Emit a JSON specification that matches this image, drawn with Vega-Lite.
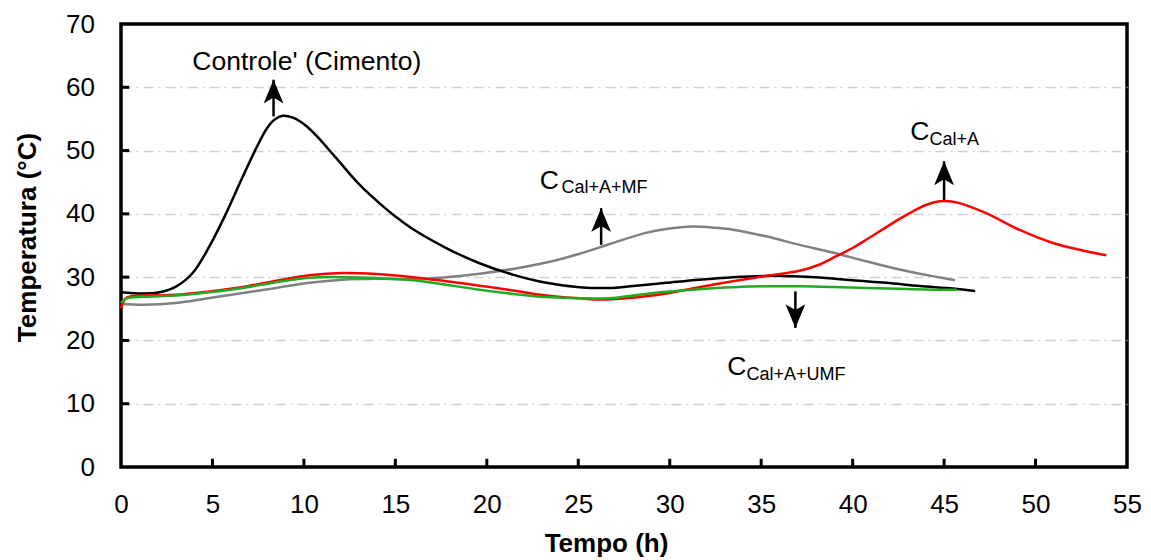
{
  "$schema": "https://vega.github.io/schema/vega-lite/v6.json",
  "width": 1006,
  "height": 443,
  "autosize": {"type": "none"},
  "padding": {"left": 121, "top": 24, "right": 24, "bottom": 93},
  "background": "white",
  "config": {
    "view": {"stroke": "black", "strokeWidth": 3.5},
    "font": "Liberation Sans",
    "axis": {
      "labelFont": "Liberation Sans",
      "labelFontSize": 26,
      "labelColor": "black",
      "labelFlush": false,
      "labelOverlap": false,
      "titleFont": "Liberation Sans",
      "titleFontSize": 26,
      "titleFontWeight": "bold",
      "titleColor": "black",
      "domain": false,
      "ticks": false
    }
  },
  "datasets": {
    "curves": [
      {"series": "MF", "t": 0, "temp": 25.8}, {"series": "MF", "t": 1.2, "temp": 25.65}, {"series": "MF", "t": 3.0, "temp": 25.9}, {"series": "MF", "t": 4.84, "temp": 26.7}, {"series": "MF", "t": 6.66, "temp": 27.5}, {"series": "MF", "t": 8.49, "temp": 28.3}, {"series": "MF", "t": 10.3, "temp": 29.1}, {"series": "MF", "t": 12.13, "temp": 29.6}, {"series": "MF", "t": 13.95, "temp": 29.75}, {"series": "MF", "t": 15.95, "temp": 29.7}, {"series": "MF", "t": 17.78, "temp": 30.0}, {"series": "MF", "t": 19.6, "temp": 30.55}, {"series": "MF", "t": 21.42, "temp": 31.3}, {"series": "MF", "t": 23.25, "temp": 32.3}, {"series": "MF", "t": 25.07, "temp": 33.7}, {"series": "MF", "t": 26.9, "temp": 35.4}, {"series": "MF", "t": 28.7, "temp": 37.0}, {"series": "MF", "t": 29.8, "temp": 37.6}, {"series": "MF", "t": 31.26, "temp": 38.0}, {"series": "MF", "t": 32.5, "temp": 37.8}, {"series": "MF", "t": 33.45, "temp": 37.5}, {"series": "MF", "t": 35.27, "temp": 36.45}, {"series": "MF", "t": 37.1, "temp": 35.1}, {"series": "MF", "t": 38.9, "temp": 33.9}, {"series": "MF", "t": 40.74, "temp": 32.5}, {"series": "MF", "t": 42.56, "temp": 31.2}, {"series": "MF", "t": 43.66, "temp": 30.55}, {"series": "MF", "t": 45.6, "temp": 29.5},

      {"series": "Controle", "t": 0, "temp": 27.6}, {"series": "Controle", "t": 1.2, "temp": 27.4}, {"series": "Controle", "t": 2.1, "temp": 27.6}, {"series": "Controle", "t": 3.0, "temp": 28.5}, {"series": "Controle", "t": 3.93, "temp": 30.7}, {"series": "Controle", "t": 4.84, "temp": 34.9}, {"series": "Controle", "t": 5.75, "temp": 40.1}, {"series": "Controle", "t": 6.66, "temp": 45.9}, {"series": "Controle", "t": 7.57, "temp": 51.4}, {"series": "Controle", "t": 8.0, "temp": 53.6}, {"series": "Controle", "t": 8.4, "temp": 54.9}, {"series": "Controle", "t": 8.85, "temp": 55.5}, {"series": "Controle", "t": 9.4, "temp": 55.2}, {"series": "Controle", "t": 10.13, "temp": 53.9}, {"series": "Controle", "t": 10.67, "temp": 52.4}, {"series": "Controle", "t": 11.77, "temp": 48.8}, {"series": "Controle", "t": 13.04, "temp": 44.6}, {"series": "Controle", "t": 14.2, "temp": 41.5}, {"series": "Controle", "t": 15.0, "temp": 39.6}, {"series": "Controle", "t": 15.95, "temp": 37.6}, {"series": "Controle", "t": 17.78, "temp": 34.6}, {"series": "Controle", "t": 19.6, "temp": 32.2}, {"series": "Controle", "t": 21.42, "temp": 30.4}, {"series": "Controle", "t": 23.25, "temp": 29.1}, {"series": "Controle", "t": 25.07, "temp": 28.4}, {"series": "Controle", "t": 26.9, "temp": 28.3}, {"series": "Controle", "t": 28.0, "temp": 28.6}, {"series": "Controle", "t": 29.8, "temp": 29.1}, {"series": "Controle", "t": 31.6, "temp": 29.6}, {"series": "Controle", "t": 33.45, "temp": 30.0}, {"series": "Controle", "t": 35.27, "temp": 30.2}, {"series": "Controle", "t": 37.1, "temp": 30.1}, {"series": "Controle", "t": 38.9, "temp": 29.8}, {"series": "Controle", "t": 40.0, "temp": 29.5}, {"series": "Controle", "t": 41.84, "temp": 29.1}, {"series": "Controle", "t": 43.66, "temp": 28.6}, {"series": "Controle", "t": 45.48, "temp": 28.2}, {"series": "Controle", "t": 46.7, "temp": 27.8},

      {"series": "CalA", "t": 0, "temp": 25.1}, {"series": "CalA", "t": 0.28, "temp": 26.7}, {"series": "CalA", "t": 1.2, "temp": 27.1}, {"series": "CalA", "t": 3.0, "temp": 27.2}, {"series": "CalA", "t": 4.84, "temp": 27.75}, {"series": "CalA", "t": 6.66, "temp": 28.45}, {"series": "CalA", "t": 8.49, "temp": 29.45}, {"series": "CalA", "t": 10.3, "temp": 30.3}, {"series": "CalA", "t": 12.13, "temp": 30.65}, {"series": "CalA", "t": 13.95, "temp": 30.5}, {"series": "CalA", "t": 15.95, "temp": 30.0}, {"series": "CalA", "t": 17.78, "temp": 29.35}, {"series": "CalA", "t": 19.6, "temp": 28.65}, {"series": "CalA", "t": 21.42, "temp": 27.9}, {"series": "CalA", "t": 23.25, "temp": 27.1}, {"series": "CalA", "t": 25.07, "temp": 26.65}, {"series": "CalA", "t": 26.5, "temp": 26.45}, {"series": "CalA", "t": 27.98, "temp": 26.75}, {"series": "CalA", "t": 29.8, "temp": 27.4}, {"series": "CalA", "t": 31.6, "temp": 28.4}, {"series": "CalA", "t": 33.45, "temp": 29.35}, {"series": "CalA", "t": 35.27, "temp": 30.2}, {"series": "CalA", "t": 37.1, "temp": 31.0}, {"series": "CalA", "t": 38.2, "temp": 32.0}, {"series": "CalA", "t": 38.9, "temp": 33.0}, {"series": "CalA", "t": 40.0, "temp": 34.6}, {"series": "CalA", "t": 40.74, "temp": 35.9}, {"series": "CalA", "t": 41.84, "temp": 37.9}, {"series": "CalA", "t": 42.56, "temp": 39.2}, {"series": "CalA", "t": 43.3, "temp": 40.4}, {"series": "CalA", "t": 44.0, "temp": 41.4}, {"series": "CalA", "t": 44.75, "temp": 42.0}, {"series": "CalA", "t": 45.3, "temp": 42.0}, {"series": "CalA", "t": 45.84, "temp": 41.7}, {"series": "CalA", "t": 47.3, "temp": 40.1}, {"series": "CalA", "t": 49.1, "temp": 37.5}, {"series": "CalA", "t": 50.95, "temp": 35.4}, {"series": "CalA", "t": 52.77, "temp": 34.1}, {"series": "CalA", "t": 53.87, "temp": 33.45},

      {"series": "UMF", "t": 0, "temp": 25.9}, {"series": "UMF", "t": 0.28, "temp": 26.6}, {"series": "UMF", "t": 1.2, "temp": 26.9}, {"series": "UMF", "t": 3.0, "temp": 27.1}, {"series": "UMF", "t": 4.84, "temp": 27.6}, {"series": "UMF", "t": 6.66, "temp": 28.3}, {"series": "UMF", "t": 8.49, "temp": 29.2}, {"series": "UMF", "t": 10.3, "temp": 29.9}, {"series": "UMF", "t": 12.13, "temp": 30.0}, {"series": "UMF", "t": 13.95, "temp": 29.85}, {"series": "UMF", "t": 15.95, "temp": 29.5}, {"series": "UMF", "t": 17.78, "temp": 28.8}, {"series": "UMF", "t": 19.6, "temp": 28.0}, {"series": "UMF", "t": 21.42, "temp": 27.35}, {"series": "UMF", "t": 23.25, "temp": 26.85}, {"series": "UMF", "t": 25.07, "temp": 26.65}, {"series": "UMF", "t": 26.9, "temp": 26.7}, {"series": "UMF", "t": 27.98, "temp": 27.1}, {"series": "UMF", "t": 29.8, "temp": 27.7}, {"series": "UMF", "t": 31.6, "temp": 28.1}, {"series": "UMF", "t": 33.45, "temp": 28.4}, {"series": "UMF", "t": 35.27, "temp": 28.55}, {"series": "UMF", "t": 37.1, "temp": 28.55}, {"series": "UMF", "t": 38.9, "temp": 28.45}, {"series": "UMF", "t": 40.74, "temp": 28.3}, {"series": "UMF", "t": 42.56, "temp": 28.15}, {"series": "UMF", "t": 44.0, "temp": 28.05}, {"series": "UMF", "t": 45.7, "temp": 28.0}
    ],
    "arrows": [
      {"t": 8.34, "from": 55.4, "to": 61.2, "dir": "up"},
      {"t": 26.25, "from": 35.1, "to": 40.9, "dir": "up"},
      {"t": 45.0, "from": 42.2, "to": 48.3, "dir": "up"},
      {"t": 36.87, "from": 27.75, "to": 21.97, "dir": "down"}
    ],
    "labels": [
      {"t": 3.9, "temp": 62.7, "text": "Controle' (Cimento)"},
      {"t": 43.15, "temp": 51.73, "text": "C"},
      {"t": 22.9, "temp": 43.94, "text": "C"},
      {"t": 33.15, "temp": 14.59, "text": "C"}
    ],
    "subs": [
      {"t": 44.2, "temp": 50.93, "text": "Cal+A"},
      {"t": 24.08, "temp": 43.3, "text": "Cal+A+MF"},
      {"t": 34.2, "temp": 13.69, "text": "Cal+A+UMF"}
    ],
    "xticks": [{"t": 5}, {"t": 10}, {"t": 15}, {"t": 20}, {"t": 25}, {"t": 30}, {"t": 35}, {"t": 40}, {"t": 45}, {"t": 50}],
    "yticks": [{"temp": 10}, {"temp": 20}, {"temp": 30}, {"temp": 40}, {"temp": 50}, {"temp": 60}]
  },
  "layer": [
    {
      "data": {"name": "curves"},
      "mark": {"type": "line", "strokeWidth": 2.5, "interpolate": "catmull-rom"},
      "encoding": {
        "x": {
          "field": "t", "type": "quantitative",
          "scale": {"domain": [0, 55], "nice": false},
          "axis": {
            "title": "Tempo (h)",
            "values": [0, 5, 10, 15, 20, 25, 30, 35, 40, 45, 50, 55],
            "grid": false,
            "labelBaseline": "alphabetic",
            "labelPadding": 45,
            "titleX": 485,
            "titleY": 84,
            "titleBaseline": "alphabetic"
          }
        },
        "y": {
          "field": "temp", "type": "quantitative",
          "scale": {"domain": [0, 70], "nice": false},
          "axis": {
            "title": "Temperatura (°C)",
            "values": [0, 10, 20, 30, 40, 50, 60, 70],
            "grid": true,
            "gridColor": {"condition": {"test": "datum.value == 0 || datum.value == 70", "value": "rgba(0,0,0,0)"}, "value": "#d0d0d0"},
            "gridWidth": 1.5,
            "gridDash": [10, 5, 2, 5],
            "labelPadding": 26.5,
            "titleX": -86,
            "titleY": 213,
            "titleBaseline": "alphabetic"
          }
        },
        "color": {
          "field": "series", "type": "nominal",
          "scale": {"domain": ["MF", "Controle", "CalA", "UMF"], "range": ["#808080", "#000000", "#ff0000", "#22aa22"]},
          "legend": null
        },
        "order": {"field": "t", "type": "quantitative"}
      }
    },
    {
      "data": {"name": "xticks"},
      "mark": {"type": "rule", "strokeWidth": 3, "color": "black", "strokeCap": "butt"},
      "encoding": {
        "x": {"field": "t", "type": "quantitative"},
        "y": {"datum": 0, "type": "quantitative"},
        "y2": {"datum": 1.3}
      }
    },
    {
      "data": {"name": "yticks"},
      "mark": {"type": "rule", "strokeWidth": 3, "color": "black", "strokeCap": "butt"},
      "encoding": {
        "y": {"field": "temp", "type": "quantitative"},
        "x": {"datum": 0, "type": "quantitative"},
        "x2": {"datum": 0.45}
      }
    },
    {
      "data": {"name": "arrows"},
      "mark": {"type": "rule", "color": "black", "strokeWidth": 2.5},
      "encoding": {
        "x": {"field": "t", "type": "quantitative"},
        "y": {"field": "from", "type": "quantitative"},
        "y2": {"field": "to"}
      }
    },
    {
      "data": {"name": "arrows"},
      "mark": {"type": "point", "filled": true, "color": "black", "opacity": 1, "size": 700},
      "encoding": {
        "x": {"field": "t", "type": "quantitative"},
        "y": {"field": "to", "type": "quantitative"},
        "shape": {
          "field": "dir", "type": "nominal",
          "scale": {"domain": ["up", "down"], "range": ["M0,0L0.75,1.8L0,1.35L-0.75,1.8Z", "M0,0L0.75,-1.8L0,-1.35L-0.75,-1.8Z"]},
          "legend": null
        }
      }
    },
    {
      "data": {"name": "labels"},
      "mark": {"type": "text", "fontSize": 26.5, "font": "Liberation Sans", "color": "black", "baseline": "alphabetic", "align": "left"},
      "encoding": {
        "x": {"field": "t", "type": "quantitative"},
        "y": {"field": "temp", "type": "quantitative"},
        "text": {"field": "text"}
      }
    },
    {
      "data": {"name": "subs"},
      "mark": {"type": "text", "fontSize": 18, "font": "Liberation Sans", "color": "black", "baseline": "alphabetic", "align": "left"},
      "encoding": {
        "x": {"field": "t", "type": "quantitative"},
        "y": {"field": "temp", "type": "quantitative"},
        "text": {"field": "text"}
      }
    }
  ]
}
